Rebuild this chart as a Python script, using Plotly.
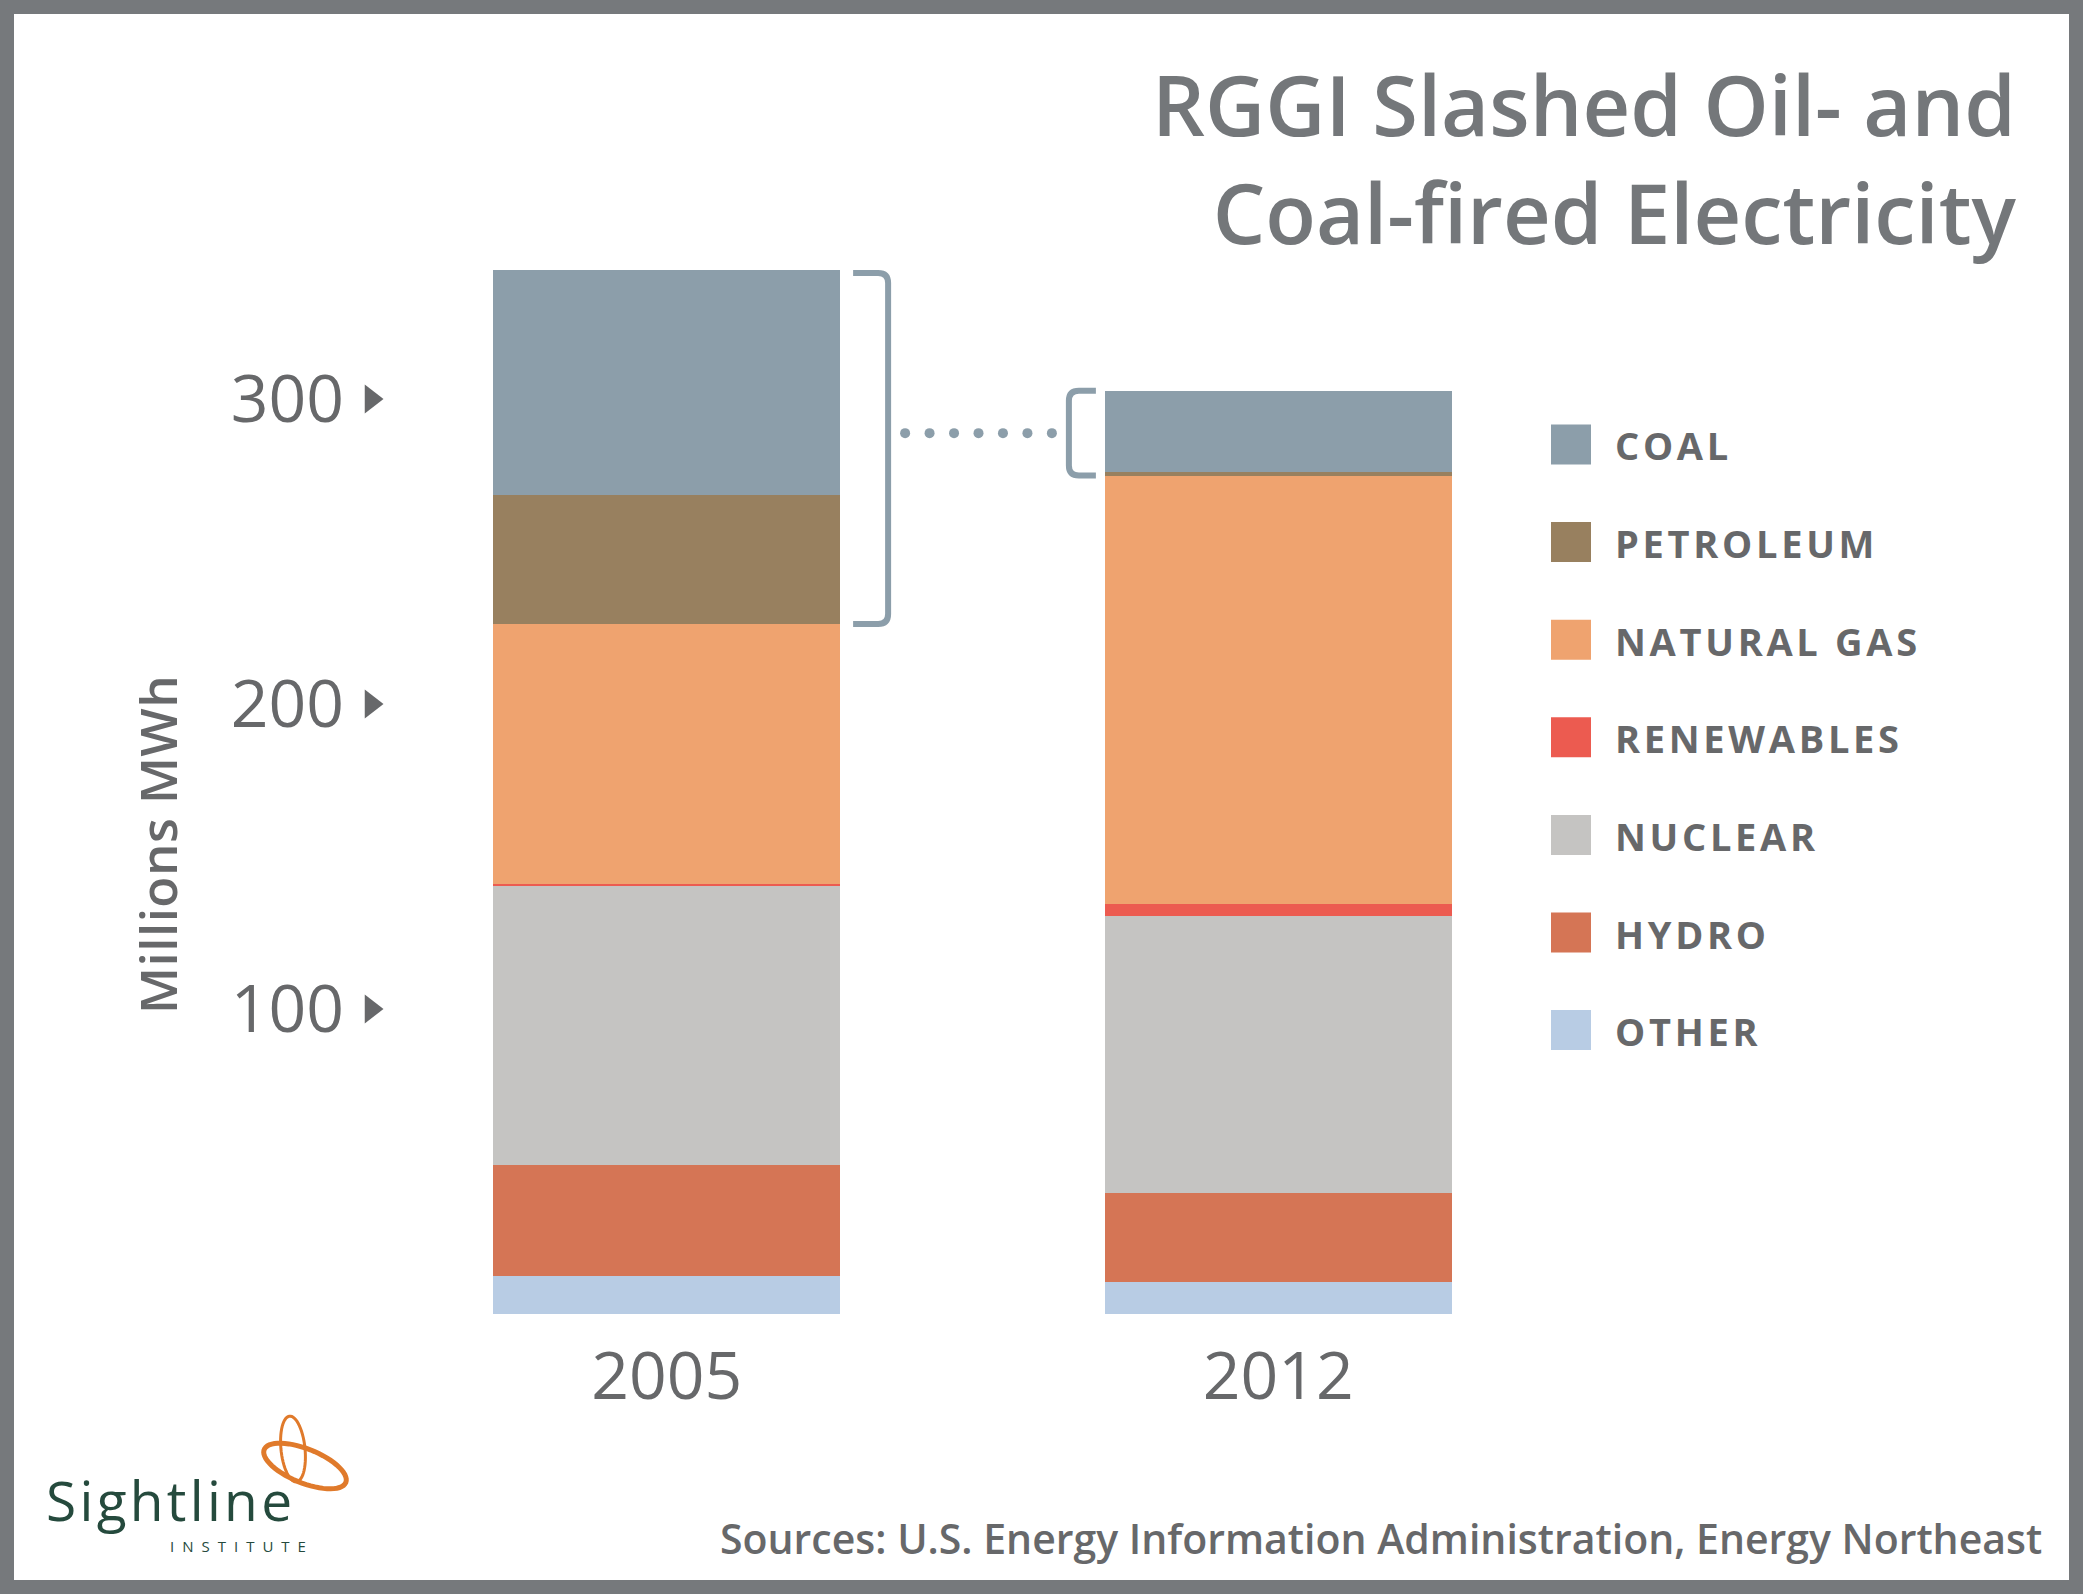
import numpy as np
import plotly.graph_objects as go

# ---------------- data ----------------
years = ["2005", "2012"]
sources = ["OTHER", "HYDRO", "NUCLEAR", "RENEWABLES", "NATURAL GAS", "PETROLEUM", "COAL"]
other = [12.6, 10.4]
hydro = [36.3, 29.3]
nuclear = [91.5, 90.9]
renewables = [0.6, 3.8]
natural_gas = [85.2, 140.5]
petroleum = [42.3, 1.2]
coal = [73.8, 26.6]
y_ticks = [100, 200, 300]
y_tick_labels = ["100", "200", "300"]
legend_order = ["COAL", "PETROLEUM", "NATURAL GAS", "RENEWABLES", "NUCLEAR", "HYDRO", "OTHER"]

colors = {
    "COAL": "#8C9EAA",
    "PETROLEUM": "#98805F",
    "NATURAL GAS": "#EFA36F",
    "RENEWABLES": "#EC5B50",
    "NUCLEAR": "#C5C4C2",
    "HYDRO": "#D57555",
    "OTHER": "#B8CCE4",
}
series = {
    "OTHER": other, "HYDRO": hydro, "NUCLEAR": nuclear, "RENEWABLES": renewables,
    "NATURAL GAS": natural_gas, "PETROLEUM": petroleum, "COAL": coal,
}

# ---------------- geometry ----------------
FW, FH = 2083, 1594
ML, MR, MT, MB = 361, 499, 94, 280
PW, PH = FW - ML - MR, FH - MT - MB
XR = (-0.5, 1.5)
YR = (0, 400)
xpx = PW / (XR[1] - XR[0])      # px per x unit
ypx = PH / (YR[1] - YR[0])      # px per y unit
BAR_W = 0.567
hw = BAR_W / 2
xpos = list(range(len(years)))

def px_x(px):   # figure pixel -> paper x
    return (px - ML) / PW

def px_y(py):   # figure pixel (from top) -> paper y
    return (FH - MB - py) / PH

TEXT = "#67686A"
FONT = "Open Sans"

fig = go.Figure()
for name in sources:
    fig.add_trace(go.Bar(
        x=xpos, y=series[name], name=name, width=BAR_W,
        marker=dict(color=colors[name], line=dict(width=0)),
        showlegend=False, hoverinfo="y+name",
    ))

# tick triangles next to y labels
fig.add_trace(go.Scatter(
    x=[XR[0] + 10 / xpx] * len(y_ticks), y=y_ticks, mode="markers",
    marker=dict(symbol="triangle-right", size=25, color=TEXT),
    showlegend=False, hoverinfo="skip", cliponaxis=False,
))

shapes = []
annotations = []

# brackets around coal + petroleum
BR = "#8C9EAA"
totals = [sum(series[s][i] for s in sources) for i in range(len(years))]
fossil_bottom = [totals[i] - coal[i] - petroleum[i] for i in range(len(years))]
rx, ry = 10 / xpx, 10 / ypx

# 2005 bracket: opens left, sits right of bar
xs = xpos[0] + hw + 13 / xpx
xv = xpos[0] + hw + 48 / xpx
yt, yb = totals[0] - 1.0, fossil_bottom[0]
p1 = (f"M{xs},{yt} L{xv - rx},{yt} Q{xv},{yt} {xv},{yt - ry} "
      f"L{xv},{yb + ry} Q{xv},{yb} {xv - rx},{yb} L{xs},{yb}")
shapes.append(dict(type="path", path=p1, xref="x", yref="y",
                   line=dict(color=BR, width=6)))
# 2012 bracket: opens right, sits left of bar
xs2 = xpos[1] - hw - 9 / xpx
xv2 = xpos[1] - hw - 36 / xpx
yt2, yb2 = totals[1], fossil_bottom[1]
p2 = (f"M{xs2},{yt2} L{xv2 + rx},{yt2} Q{xv2},{yt2} {xv2},{yt2 - ry} "
      f"L{xv2},{yb2 + ry} Q{xv2},{yb2} {xv2 + rx},{yb2} L{xs2},{yb2}")
shapes.append(dict(type="path", path=p2, xref="x", yref="y",
                   line=dict(color=BR, width=6)))
# dotted connector (round dots)
ymid = (yt2 + yb2) / 2
dot_x = np.linspace(xv + 17 / xpx, xv2 - 17 / xpx, 7)
fig.add_trace(go.Scatter(
    x=dot_x, y=[ymid] * len(dot_x), mode="markers",
    marker=dict(symbol="circle", size=10, color=BR),
    showlegend=False, hoverinfo="skip", cliponaxis=False,
))

# legend (manual, large squares)
for i, name in enumerate(legend_order):
    cy = 444.5 + i * 97.6
    shapes.append(dict(type="rect", xref="paper", yref="paper",
                       x0=px_x(1551), x1=px_x(1591), y0=px_y(cy + 20), y1=px_y(cy - 20),
                       fillcolor=colors[name], line=dict(width=0)))
    annotations.append(dict(
        xref="paper", yref="paper", x=px_x(1613), y=px_y(cy + 1),
        xanchor="left", yanchor="middle", showarrow=False,
        text=f"<span style='letter-spacing:3.7px'>{name}</span>",
        font=dict(family=FONT, size=38, color=TEXT, weight=700),
    ))

# title
annotations.append(dict(
    xref="paper", yref="paper", x=px_x(2018), y=px_y(157),
    xanchor="right", yanchor="middle", align="right", showarrow=False,
    text="RGGI Slashed Oil- and<br>Coal-fired Electricity",
    font=dict(family=FONT, size=83, color="#74777A", weight=600),
))
# y axis title
annotations.append(dict(
    xref="paper", yref="paper", x=px_x(157), y=px_y(845),
    xanchor="center", yanchor="middle", textangle=-90, showarrow=False,
    text="<span style='letter-spacing:0.5px'>Millions MWh</span>",
    font=dict(family=FONT, size=51, color=TEXT, weight=600),
))
# sources
annotations.append(dict(
    xref="paper", yref="paper", x=px_x(2044), y=px_y(1538),
    xanchor="right", yanchor="middle", showarrow=False,
    text="Sources: U.S. Energy Information Administration, Energy Northeast",
    font=dict(family=FONT, size=41, color=TEXT, weight=600),
))
# logo text
LOGO = "#254A3D"
annotations.append(dict(
    xref="paper", yref="paper", x=px_x(44), y=px_y(1500),
    xanchor="left", yanchor="middle", showarrow=False,
    text="<span style='letter-spacing:3.3px'>Sightline</span>",
    font=dict(family=FONT, size=55, color=LOGO, weight=500),
))
annotations.append(dict(
    xref="paper", yref="paper", x=px_x(168), y=px_y(1546),
    xanchor="left", yanchor="middle", showarrow=False,
    text="<span style='letter-spacing:8px'>INSTITUTE</span>",
    font=dict(family=FONT, size=15, color=LOGO, weight=500),
))

# logo swirl: two rotated ellipses (decorative)
def ellipse_path(cx, cy, a, b, ang_deg, n=60):
    t = np.linspace(0, 2 * np.pi, n)
    ang = np.deg2rad(ang_deg)
    xx = cx + a * np.cos(t) * np.cos(ang) - b * np.sin(t) * np.sin(ang)
    yy = cy + a * np.cos(t) * np.sin(ang) + b * np.sin(t) * np.cos(ang)
    pts = [f"{px_x(x):.5f},{px_y(y):.5f}" for x, y in zip(xx, yy)]
    return "M" + " L".join(pts) + " Z"

ORANGE = "#E07A2B"
shapes.append(dict(type="path", xref="paper", yref="paper",
                   path=ellipse_path(293, 1449, 12, 33, -6), line=dict(color=ORANGE, width=3)))
shapes.append(dict(type="path", xref="paper", yref="paper",
                   path=ellipse_path(305, 1466, 44, 17, 22), line=dict(color=ORANGE, width=5)))

# outer frame
BW = 14
shapes.append(dict(type="rect", xref="paper", yref="paper",
                   x0=px_x(BW / 2), x1=px_x(FW - BW / 2), y0=px_y(FH - BW / 2), y1=px_y(BW / 2),
                   line=dict(color="#76797C", width=BW), fillcolor="rgba(0,0,0,0)", layer="above"))

fig.update_layout(
    width=FW, height=FH,
    margin=dict(l=ML, r=MR, t=MT, b=MB, autoexpand=False),
    barmode="stack", bargap=0,
    paper_bgcolor="white", plot_bgcolor="white",
    font=dict(family=FONT, color=TEXT),
    showlegend=False,
    shapes=shapes, annotations=annotations,
    xaxis=dict(range=list(XR), tickvals=xpos, ticktext=years, showgrid=False,
               zeroline=False, showline=False, ticks="", automargin=False,
               tickfont=dict(family=FONT, size=66, color=TEXT), ticklabelstandoff=18),
    yaxis=dict(range=list(YR), tickvals=y_ticks, ticktext=y_tick_labels, showgrid=False,
               zeroline=False, showline=False, ticks="", automargin=False,
               tickfont=dict(family=FONT, size=66, color=TEXT), ticklabelstandoff=16),
)

fig.write_html("out.html", config={"displayModeBar": False},
               post_script="document.body.style.margin='0px';")
